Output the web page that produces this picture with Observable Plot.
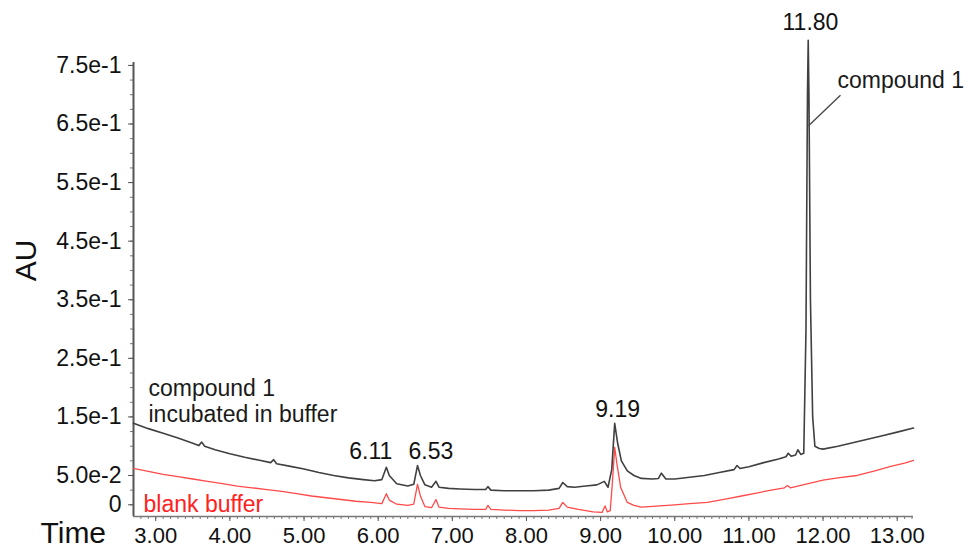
<!DOCTYPE html>
<html><head><meta charset="utf-8">
<script src="https://cdn.jsdelivr.net/npm/d3@7"></script>
<script src="https://cdn.jsdelivr.net/npm/@observablehq/plot@0.6"></script>
<style>html,body{margin:0;padding:0;background:#fff;}</style>
</head><body><div id="chart"></div>
<script>
// compound 1 incubated in buffer (black trace)
const blackTime = [2.70,2.90,3.10,3.30,3.50,3.58,3.62,3.66,3.80,4.00,4.20,4.40,4.55,4.59,4.63,4.80,5.00,5.20,5.40,5.60,5.80,5.95,6.05,6.11,6.15,6.25,6.40,6.48,6.53,6.57,6.63,6.72,6.78,6.82,6.95,7.10,7.30,7.45,7.48,7.52,7.70,7.90,8.10,8.30,8.44,8.49,8.55,8.65,8.80,8.95,9.05,9.10,9.15,9.19,9.23,9.28,9.36,9.45,9.55,9.70,9.78,9.82,9.88,10.00,10.20,10.40,10.60,10.80,10.84,10.88,11.00,11.20,11.40,11.50,11.53,11.57,11.63,11.66,11.70,11.74,11.77,11.79,11.80,11.81,11.83,11.86,11.89,11.95,12.00,12.20,12.40,12.60,12.80,13.00,13.22];
const blackAU = [0.139,0.130,0.122,0.114,0.105,0.101,0.107,0.100,0.094,0.087,0.081,0.076,0.072,0.077,0.070,0.066,0.061,0.055,0.050,0.046,0.043,0.041,0.043,0.064,0.050,0.036,0.032,0.035,0.067,0.050,0.034,0.030,0.040,0.030,0.028,0.027,0.026,0.026,0.031,0.025,0.024,0.024,0.024,0.025,0.028,0.038,0.031,0.030,0.032,0.034,0.040,0.030,0.060,0.139,0.105,0.075,0.058,0.050,0.045,0.044,0.045,0.054,0.044,0.044,0.047,0.050,0.055,0.060,0.067,0.062,0.065,0.072,0.078,0.082,0.088,0.083,0.085,0.094,0.086,0.088,0.300,0.700,0.793,0.700,0.350,0.150,0.100,0.096,0.095,0.100,0.106,0.112,0.118,0.124,0.131];
// blank buffer (red trace)
const redTime = [2.70,2.90,3.10,3.30,3.50,3.70,3.90,4.10,4.30,4.50,4.70,4.90,5.10,5.30,5.50,5.70,5.90,6.05,6.11,6.15,6.25,6.40,6.48,6.53,6.57,6.63,6.72,6.78,6.82,6.95,7.10,7.30,7.45,7.48,7.52,7.70,7.90,8.10,8.30,8.44,8.49,8.55,8.70,8.90,9.02,9.06,9.09,9.13,9.16,9.19,9.22,9.27,9.36,9.45,9.55,9.80,10.00,10.20,10.44,10.70,10.90,11.10,11.30,11.48,11.52,11.56,11.80,12.00,12.20,12.46,12.70,12.90,13.10,13.22];
const redAU = [0.062,0.057,0.052,0.048,0.044,0.040,0.036,0.032,0.029,0.026,0.023,0.019,0.015,0.012,0.009,0.006,0.004,0.002,0.019,0.008,0.001,-0.001,0.001,0.035,0.015,-0.003,-0.005,0.009,-0.004,-0.006,-0.007,-0.008,-0.008,-0.001,-0.008,-0.009,-0.010,-0.010,-0.009,-0.006,0.004,-0.004,-0.008,-0.012,-0.013,-0.002,-0.012,-0.010,0.040,0.098,0.070,0.030,0.004,-0.001,-0.004,-0.002,0.000,0.002,0.004,0.010,0.015,0.020,0.025,0.029,0.033,0.029,0.036,0.042,0.046,0.050,0.058,0.065,0.071,0.076];

const xTicks = [3,4,5,6,7,8,9,10,11,12,13];
const xTickLabels = ["3.00","4.00","5.00","6.00","7.00","8.00","9.00","10.00","11.00","12.00","13.00"];
const yTicks = [0,0.05,0.15,0.25,0.35,0.45,0.55,0.65,0.75];
const yTickLabels = ["0","5.0e-2","1.5e-1","2.5e-1","3.5e-1","4.5e-1","5.5e-1","6.5e-1","7.5e-1"];
const xMinor = d3.range(28, 133).map(i => i / 10);
const yMinor = d3.range(0, 31).map(i => i * 0.025);

const peakLabels = ["6.11","6.53","9.19","11.80"];
const peakLabelTime = [5.90, 6.71, 9.23, 11.83];
const peakLabelAU = [0.079, 0.079, 0.149, 0.810];

const seriesLabels = ["compound 1\nincubated in buffer", "blank buffer", "compound 1"];
const seriesLabelTime = [2.902, 2.835, 12.195];
const seriesLabelAU = [0.1405, -0.013, 0.7115];
const seriesLabelColor = ["#1a1a1a", "#ff2020", "#1a1a1a"];

const leaderTime = [12.235, 11.805];
const leaderAU = [0.699, 0.647];

const xDomain = [2.70, 13.22];
const yDomain = [-0.02, 0.755];

const font = "'Liberation Sans', Arial, Helvetica, sans-serif";

const chart = Plot.plot({
  width: 973, height: 548,
  marginLeft: 133, marginRight: 60, marginTop: 62, marginBottom: 32,
  x: {domain: xDomain, axis: null},
  y: {domain: yDomain, axis: null},
  style: {fontFamily: font, background: "#fff", color: "#111", overflow: "visible"},
  marks: [
    Plot.axisX({ticks: xMinor, tickSize: 3, stroke: "#777", tickFormat: () => "", label: null}),
    Plot.axisX({ticks: xTicks, tickSize: 5, tickPadding: 6, stroke: "#555", fontSize: 22, fill: "#111",
      tickFormat: d => xTickLabels[xTicks.indexOf(d)], label: null}),
    Plot.axisY({ticks: yMinor, tickSize: 3, stroke: "#777", tickFormat: () => "", label: null}),
    Plot.axisY({ticks: yTicks, tickSize: 5, tickPadding: 7, stroke: "#555", fontSize: 23, fill: "#111",
      tickFormat: d => yTickLabels[yTicks.indexOf(d)], label: null}),
    Plot.ruleX([xDomain[0]], {stroke: "#555", strokeWidth: 2}),
    Plot.ruleY([yDomain[0]], {stroke: "#777", strokeWidth: 1.5}),
    Plot.line(redAU, {x: redTime, y: redAU, stroke: "#ff4a4a", strokeWidth: 1.3}),
    Plot.line(blackAU, {x: blackTime, y: blackAU, stroke: "#404040", strokeWidth: 1.6}),
    Plot.link([0], {x1: [leaderTime[0]], y1: [leaderAU[0]], x2: [leaderTime[1]], y2: [leaderAU[1]], stroke: "#444", strokeWidth: 1.3}),
    Plot.text(peakLabels, {x: peakLabelTime, y: peakLabelAU, text: d => d, fontSize: 23, textAnchor: "middle", lineAnchor: "bottom", fill: "#111"}),
    Plot.text(seriesLabels, {x: seriesLabelTime, y: seriesLabelAU, text: d => d, fontSize: 23, textAnchor: "start", lineAnchor: "bottom", lineHeight: 1.17, fill: seriesLabelColor}),
    Plot.text(["Time"], {frameAnchor: "bottom-left", dx: -93, dy: 26, fontSize: 30, textAnchor: "start", lineAnchor: "bottom", fill: "#111"}),
    Plot.text(["AU"], {frameAnchor: "left", dx: -107, dy: -29, fontSize: 30, rotate: -90, textAnchor: "middle", lineAnchor: "middle", fill: "#111"})
  ]
});
document.getElementById("chart").appendChild(chart);
</script>
</body></html>
